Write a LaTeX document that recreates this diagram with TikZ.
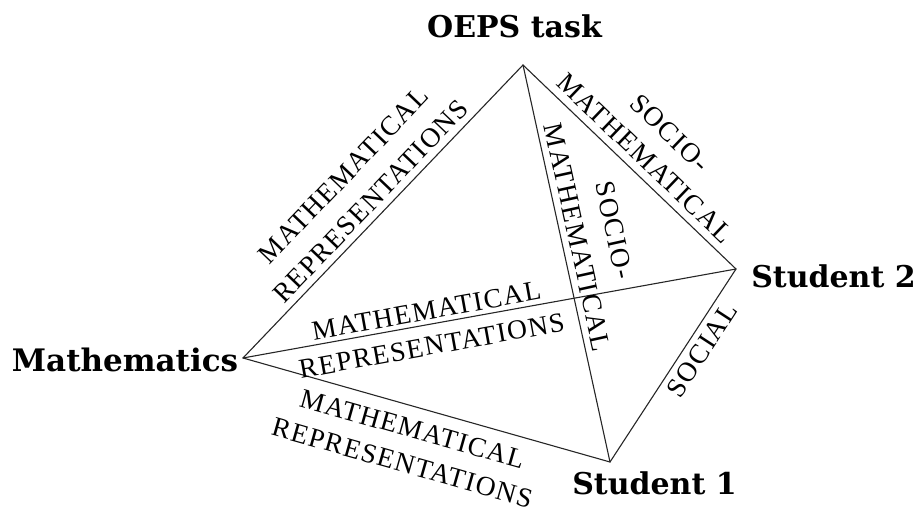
\documentclass[tikz,border=0pt]{standalone}
\usepackage{fontspec}
\setmainfont{Liberation Serif}
\newfontfamily\vfont{DejaVu Serif}
\newfontfamily\efont[LetterSpace=5]{Liberation Serif}
\usetikzlibrary{calc}
\begin{document}
\begin{tikzpicture}[x=1pt,y=1pt,
  edge/.style={line width=1.1pt, black!85, line cap=round},
  vlab/.style={font=\vfont\bfseries\fontsize{30}{36}\selectfont, inner sep=0pt},
  elab/.style={font=\efont\fontsize{27.5}{30}\selectfont, inner sep=0pt, anchor=center}]
\useasboundingbox (0,0) rectangle (918,508);
\coordinate (O) at (523,443);
\coordinate (S2) at (736,239);
\coordinate (M) at (243,150);
\coordinate (S1) at (610,46);

\draw[edge] (M) -- (O);
\draw[edge] (O) -- (S2);
\draw[edge] (O) -- (S1);
\draw[edge] (M) -- (S2);
\draw[edge] (M) -- (S1);
\draw[edge] (S1) -- (S2);

\node[vlab, anchor=base] (Olab) at (514.5,470) {OEPS task};
\node[vlab, anchor=base] (S2lab) at (833.5,220) {Student 2};
\node[vlab, anchor=base] (S1lab) at (654.5,13) {Student 1};
\node[vlab, anchor=base] (Mlab) at (125,136) {\fontsize{31}{36}\selectfont Mathematics};

% M -- O
\node[elab, rotate=46.33] (mo1) at ($(M)!0.497!(O)!53.4pt!90:(O)$) {MATHEMATICAL};
\node[elab, rotate=46.33] (mo2) at ($(M)!0.497!(O)!16pt!90:(O)$) {REPRESENTATIONS};
% M -- S2
\node[elab, rotate=10.23] (ms21) at ($(M)!0.377!(S2)!13.9pt!90:(S2)$) {MATHEMATICAL};
\node[elab, rotate=10.23] (ms22) at ($(M)!0.375!(S2)!21.5pt!-90:(S2)$) {REPRESENTATIONS};
% M -- S1
\node[elab, rotate=-15.82] (ms11) at ($(M)!0.478!(S1)!22.2pt!-90:(S1)$) {MATHEMATICAL};
\node[elab, rotate=-15.82] (ms12) at ($(M)!0.477!(S1)!57.6pt!-90:(S1)$) {REPRESENTATIONS};
% O -- S2
\node[elab, rotate=-43.77] (os21) at ($(O)!0.517!(S2)!17.2pt!90:(S2)$) {MATHEMATICAL};
\node[elab, rotate=-43.77] (os22) at ($(O)!0.519!(S2)!52.6pt!90:(S2)$) {SOCIO-};
% O -- S1
\node[elab, rotate=-77.64] (os11) at ($(O)!0.443!(S1)!16.3pt!90:(S1)$) {MATHEMATICAL};
\node[elab, rotate=-77.64] (os12) at ($(O)!0.445!(S1)!54.1pt!90:(S1)$) {SOCIO-};
% S1 -- S2
\node[elab, rotate=56.86] (s12) at ($(S1)!0.626!(S2)!15.7pt!-90:(S2)$) {SOCIAL};
\end{tikzpicture}
\end{document}
